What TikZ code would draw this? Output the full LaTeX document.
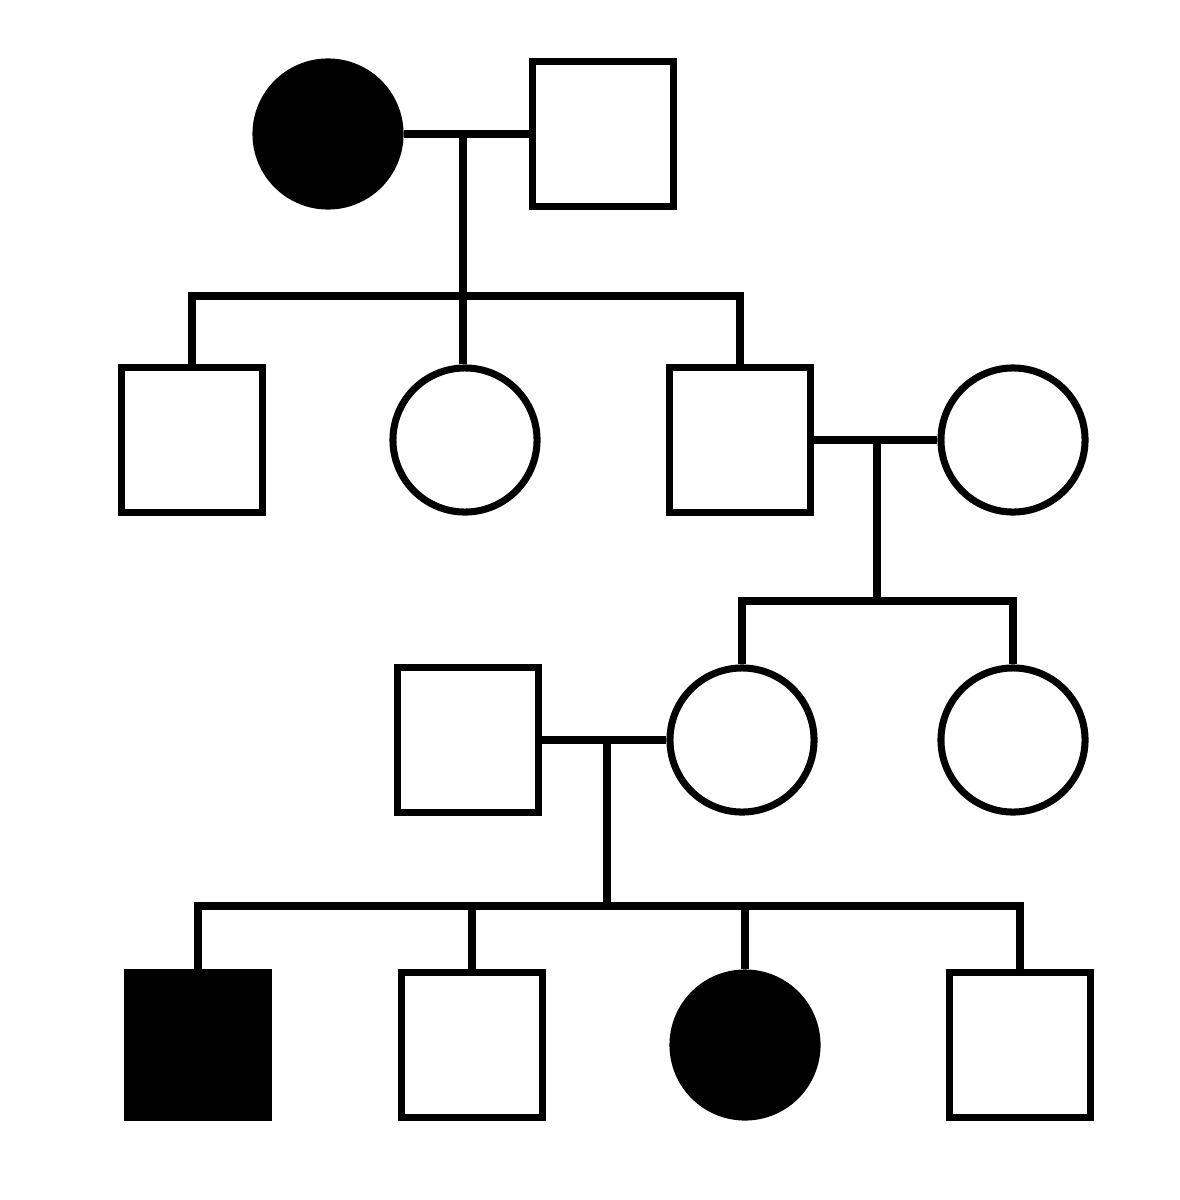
\documentclass[tikz,border=0pt]{standalone}
\tikzset{male/.style = {draw, rectangle, minimum width = 1.41cm, minimum height = 1.45cm, inner sep = 0}}
\tikzset{female/.style = {draw, circle, minimum size = 1.44cm, inner sep = 0}}
\tikzset{affected/.style = {fill = black}}
\begin{document}
\begin{tikzpicture}[x = 0.01cm, y = -0.01cm, line width = 2pt]
	\useasboundingbox (0,0) rectangle (1180,1200);
	% generation I
	\node [female, affected] (i1) at (328,134) {};
	\node [male] (i2) at (603,134) {};
	\coordinate (u1) at (463,134);
	\coordinate (s1) at (463,296);
	% generation II
	\node [male] (ii1) at (192,440) {};
	\node [female] (ii2) at (465,440) {};
	\node [male] (ii3) at (740,440) {};
	\node [female] (ii4) at (1013,440) {};
	\coordinate (u2) at (877,438);
	\coordinate (s2) at (877,601);
	% generation III
	\node [male] (iii1) at (468,740) {};
	\node [female] (iii2) at (742,740) {};
	\node [female] (iii3) at (1013,740) {};
	\coordinate (u3) at (607,740);
	\coordinate (s3) at (607,906);
	% generation IV
	\node [male, affected] (iv1) at (198,1045) {};
	\node [male] (iv2) at (472,1045) {};
	\node [female, affected] (iv3) at (745,1045) {};
	\node [male] (iv4) at (1020,1045) {};
	% lines of descent
	\draw (i1) -- (i2);
	\draw (u1) -- (u1 |- ii2.north);
	\draw (ii1.north) |- (s1) -| (ii3.north);
	\draw (ii3) -- (ii4);
	\draw (u2) -- (s2);
	\draw (iii2.north) |- (s2) -| (iii3.north);
	\draw (iii1) -- (iii2);
	\draw (u3) -- (s3);
	\draw (iv1.north) |- (s3) -| (iv4.north);
	\draw (iv2.north) -- (iv2.north |- s3);
	\draw (iv3.north) -- (iv3.north |- s3);
\end{tikzpicture}
\end{document}
